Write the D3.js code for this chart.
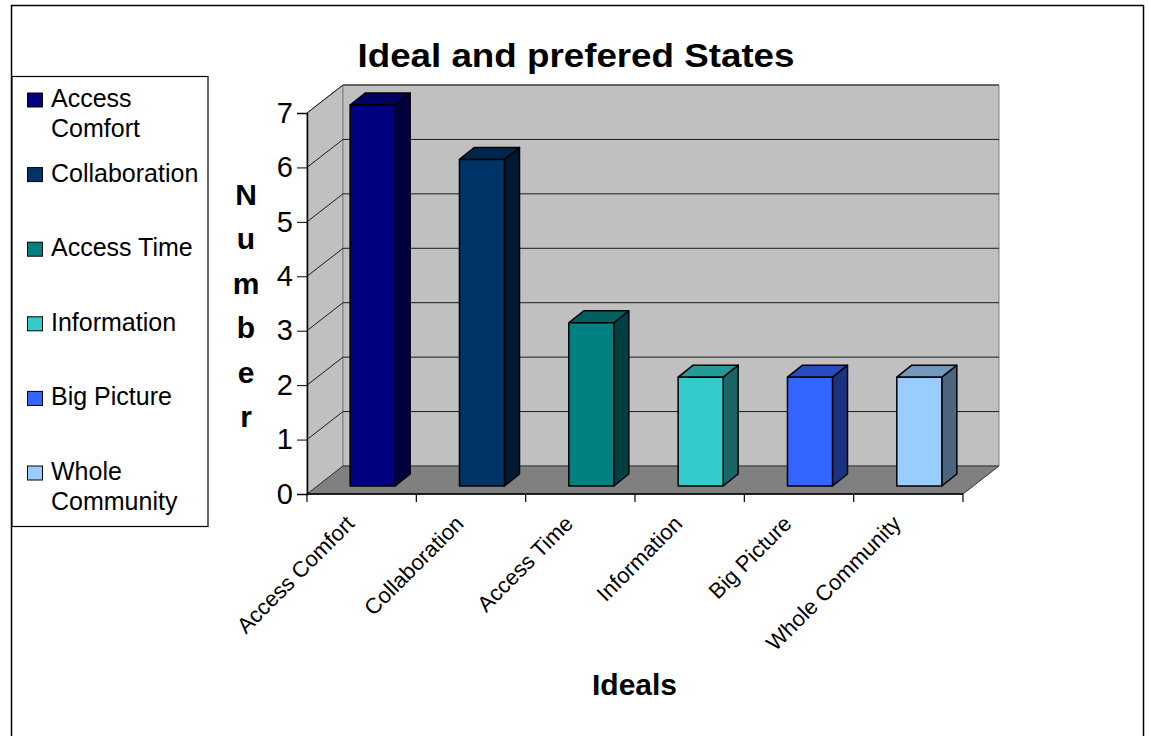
<!DOCTYPE html>
<html>
<head>
<meta charset="utf-8">
<script src="https://cdn.jsdelivr.net/npm/d3@7"></script>
<style>
	body { margin: 0; background: #fff; }
	svg { display: block; font-family: "Liberation Sans", Arial, sans-serif; }
</style>
</head>
<body>
<script>
// chart data
var categories = ["Access Comfort", "Collaboration", "Access Time", "Information", "Big Picture", "Whole Community"];
var values = [7, 6, 3, 2, 2, 2];
var colors = ["#000080", "#003366", "#008080", "#33cccc", "#3366ff", "#99ccff"];
var legendLines = [["Access", "Comfort"], ["Collaboration"], ["Access Time"], ["Information"], ["Big Picture"], ["Whole", "Community"]];
var yTicks = [0, 1, 2, 3, 4, 5, 6, 7];

var width = 1149, height = 736;
var depthX = 36, depthY = -28;      // back wall offset
var barOx = 10, barOy = -8;         // bar sits a bit behind the front plane
var barDx = 15, barDy = -12;        // bar depth

var svg = d3.select("body").append("svg")
	.attr("width", width)
	.attr("height", height);

// outer border
svg.append("rect")
	.attr("x", 11.5).attr("y", 5.5)
	.attr("width", 1132).attr("height", 760)
	.attr("fill", "#fff").attr("stroke", "#000").attr("stroke-width", 1.5);

var x = d3.scaleBand()
	.domain(categories)
	.range([307, 963]);

var y = d3.scaleLinear()
	.domain([0, 7])
	.range([494, 113]);

var x0 = x.range()[0], x1 = x.range()[1];
var yTop = y(7), yBot = y(0);

function pts(a) { return a.map(p => p.join(",")).join(" "); }

// left wall
svg.append("polygon")
	.attr("points", pts([[x0, yTop], [x0 + depthX, yTop + depthY], [x0 + depthX, yBot + depthY], [x0, yBot]]))
	.attr("fill", "#c0c0c0").attr("stroke", "#808080");

// back wall
svg.append("polygon")
	.attr("points", pts([[x0 + depthX, yTop + depthY], [x1 + depthX, yTop + depthY], [x1 + depthX, yBot + depthY], [x0 + depthX, yBot + depthY]]))
	.attr("fill", "#c0c0c0").attr("stroke", "#808080");

// floor
svg.append("polygon")
	.attr("points", pts([[x0, yBot], [x0 + depthX, yBot + depthY], [x1 + depthX, yBot + depthY], [x1, yBot]]))
	.attr("fill", "#808080").attr("stroke", "#333").attr("stroke-width", 1);

// gridlines
var grid = svg.append("g").attr("stroke", "#1a1a1a").attr("stroke-width", 1);
yTicks.filter(d => d > 0).forEach(function (t) {
	var yy = y(t);
	grid.append("line")
		.attr("x1", x0).attr("y1", yy)
		.attr("x2", x0 + depthX).attr("y2", yy + depthY);
	grid.append("line")
		.attr("x1", x0 + depthX).attr("y1", yy + depthY)
		.attr("x2", x1 + depthX).attr("y2", yy + depthY);
});

// bars
var shade = (c, k) => { var r = d3.rgb(c); return d3.rgb(r.r * k, r.g * k, r.b * k).formatHex(); };
var bars = svg.append("g")
	.selectAll("g")
	.data(categories)
	.enter()
	.append("g")
	.attr("stroke", "#000").attr("stroke-width", 1.5).attr("stroke-linejoin", "round");

bars.each(function (c, i) {
	var g = d3.select(this);
	var bl = x(c) + x.bandwidth() * 0.303 + barOx;
	var br = bl + x.bandwidth() * 0.412;
	var bt = y(values[i]) + barOy;
	var bb = y(0) + barOy;
	g.append("polygon")
		.attr("points", pts([[br, bt], [br + barDx, bt + barDy], [br + barDx, bb + barDy], [br, bb]]))
		.attr("fill", shade(colors[i], 0.5));
	g.append("polygon")
		.attr("points", pts([[bl, bt], [bl + barDx, bt + barDy], [br + barDx, bt + barDy], [br, bt]]))
		.attr("fill", shade(colors[i], 0.75));
	g.append("rect")
		.attr("x", bl).attr("y", bt)
		.attr("width", br - bl).attr("height", bb - bt)
		.attr("fill", colors[i]);
});

// y axis
var yAxis = d3.axisLeft(y)
	.tickValues(yTicks)
	.tickSize(10)
	.tickPadding(4)
	.tickFormat(d3.format("d"));
var ya = svg.append("g")
	.attr("transform", "translate(" + x0 + ",0)")
	.call(yAxis);
ya.select(".domain").attr("stroke", "#000").attr("stroke-width", 1.5);
ya.selectAll(".tick line").attr("stroke", "#000");
ya.selectAll(".tick text")
	.attr("font-size", 29)
	.attr("font-family", "Liberation Sans, Arial, sans-serif")
	.attr("fill", "#000");

// x axis
svg.append("line")
	.attr("x1", x0).attr("x2", x1)
	.attr("y1", yBot).attr("y2", yBot)
	.attr("stroke", "#000").attr("stroke-width", 1.5);
svg.append("g")
	.selectAll("line")
	.data(categories.concat([null]))
	.enter()
	.append("line")
	.attr("x1", (d, i) => x0 + i * x.bandwidth())
	.attr("x2", (d, i) => x0 + i * x.bandwidth())
	.attr("y1", yBot).attr("y2", yBot + 8)
	.attr("stroke", "#000").attr("stroke-width", 1.2);

svg.append("g")
	.selectAll("text")
	.data(categories)
	.enter()
	.append("text")
	.attr("transform", d => "translate(" + (x(d) + x.bandwidth() / 2 - 6) + ",525) rotate(-45)")
	.attr("text-anchor", "end")
	.attr("font-size", 22)
	.text(d => d);

// titles
svg.append("text")
	.attr("x", 576).attr("y", 67)
	.attr("text-anchor", "middle")
	.attr("font-size", 34).attr("font-weight", "bold")
	.attr("textLength", 437).attr("lengthAdjust", "spacingAndGlyphs")
	.text("Ideal and prefered States");

svg.append("text")
	.attr("x", 634.5).attr("y", 695)
	.attr("text-anchor", "middle")
	.attr("font-size", 30).attr("font-weight", "bold")
	.text("Ideals");

svg.append("g")
	.selectAll("text")
	.data("Number".split(""))
	.enter()
	.append("text")
	.attr("x", 246)
	.attr("y", (d, i) => 205 + i * 44.4)
	.attr("text-anchor", "middle")
	.attr("font-size", 30).attr("font-weight", "bold")
	.text(d => d);

// legend
svg.append("rect")
	.attr("x", 12).attr("y", 76.5)
	.attr("width", 196).attr("height", 450)
	.attr("fill", "#fff").attr("stroke", "#000").attr("stroke-width", 1.2);

var legend = svg.append("g")
	.selectAll("g")
	.data(legendLines)
	.enter()
	.append("g")
	.attr("transform", (d, i) => "translate(0," + (107 + i * 74.6) + ")");

legend.append("rect")
	.attr("x", 27.5).attr("y", -14)
	.attr("width", 15).attr("height", 14)
	.attr("fill", (d, i) => colors[i])
	.attr("stroke", "#000").attr("stroke-width", 1);

legend.each(function (lines) {
	var t = d3.select(this).append("text")
		.attr("x", 51).attr("y", 0)
		.attr("font-size", 25);
	lines.forEach(function (l, j) {
		t.append("tspan").attr("x", 51).attr("dy", j ? 30 : 0).text(l);
	});
});
</script>
</body>
</html>
